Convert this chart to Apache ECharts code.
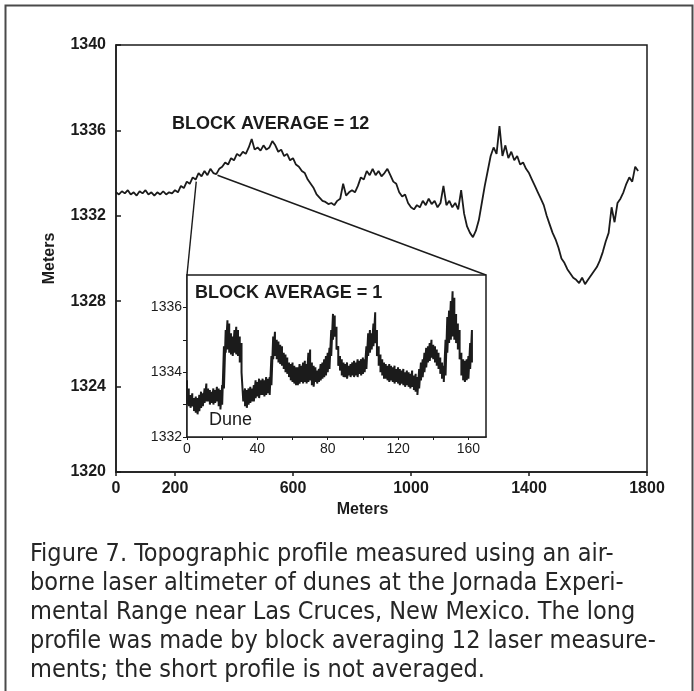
<!DOCTYPE html>
<html>
<head>
<meta charset="utf-8">
<script src="https://cdn.jsdelivr.net/npm/echarts@6/dist/echarts.min.js"></script>
<style>
  html, body { margin: 0; padding: 0; background: #fff; }
  #chart { width: 694px; height: 691px; }
</style>
</head>
<body>
<div id="chart"></div>
<script>
// Long profile: block average of 12 laser shots, one sample every 10 m from 0 m
const profileStartM = 0;
const profileStepM = 10;
const profileElev = [
  1333.1, 1333.0, 1333.15, 1333.05, 1333.2, 1333.0, 1333.1, 1332.95, 1333.15, 1333.05,
  1333.2, 1333.0, 1333.1, 1332.95, 1333.1, 1333.0, 1333.15, 1333.0, 1333.1, 1333.05,
  1333.2, 1333.1, 1333.4, 1333.3, 1333.6, 1333.5, 1333.8, 1333.7, 1334.0, 1333.85,
  1334.1, 1333.9, 1334.2, 1334.0, 1333.95, 1334.2, 1334.3, 1334.5, 1334.4, 1334.7,
  1334.6, 1334.9, 1334.8, 1335.0, 1334.9, 1335.2, 1335.6, 1335.1, 1335.2, 1335.05,
  1335.3, 1335.1, 1335.2, 1335.5, 1335.3, 1335.0, 1335.1, 1334.8, 1334.9, 1334.6,
  1334.7, 1334.4, 1334.3, 1334.1, 1334.0, 1333.7, 1333.5, 1333.3, 1333.0, 1332.85,
  1332.7, 1332.65, 1332.55, 1332.6, 1332.5, 1332.7, 1332.8, 1333.5, 1332.95, 1333.1,
  1333.2, 1333.1, 1333.4, 1333.8, 1333.7, 1334.1, 1333.9, 1334.2, 1333.9, 1334.1,
  1333.85, 1334.0, 1334.2, 1333.9, 1333.6, 1333.5, 1333.1, 1332.9, 1333.0, 1332.6,
  1332.4, 1332.3, 1332.5, 1332.4, 1332.7, 1332.5, 1332.8, 1332.55, 1332.7, 1332.4,
  1332.6, 1333.4, 1332.5, 1332.7, 1332.4, 1332.6, 1332.3, 1333.2, 1332.1, 1331.5,
  1331.2, 1331.0, 1331.3, 1331.8, 1332.6, 1333.4, 1334.1, 1334.8, 1335.2, 1334.9,
  1336.2, 1334.8, 1335.3, 1334.7, 1335.0, 1334.6, 1334.8, 1334.4, 1334.5, 1334.2,
  1334.0, 1333.7, 1333.4, 1333.1, 1332.8, 1332.5, 1332.0, 1331.6, 1331.2, 1330.9,
  1330.5, 1330.0, 1329.8, 1329.5, 1329.3, 1329.1, 1329.0, 1328.85, 1329.1, 1328.8,
  1329.0, 1329.2, 1329.4, 1329.6, 1329.9, 1330.3, 1330.8, 1331.2, 1332.4, 1331.7,
  1332.6, 1332.8, 1333.1, 1333.5, 1333.8, 1333.6, 1334.3, 1334.1
];

// Short profile, no averaging: per metre, highest and lowest raw return
const insetStepM = 1;
const insetHigh = [
  1333.75, 1333.5, 1333.3, 1333.35, 1333.2, 1333.25, 1333.2, 1333.3, 1333.4, 1333.35,
  1333.5, 1333.65, 1333.5, 1333.45, 1333.4, 1333.5, 1333.45, 1333.55, 1333.5, 1333.45,
  1333.6, 1334.8, 1335.3, 1335.6, 1335.5, 1335.2, 1335.1, 1335.3, 1335.4, 1335.3,
  1335.1, 1334.9, 1334.0, 1333.5, 1333.45, 1333.5, 1333.55, 1333.5, 1333.6, 1333.75,
  1333.7, 1333.8, 1333.75, 1333.8, 1333.75, 1333.85, 1333.8, 1333.85, 1334.5, 1335.1,
  1335.25, 1335.0, 1334.95, 1334.85, 1334.8, 1334.6, 1334.55, 1334.45, 1334.3, 1334.25,
  1334.3, 1334.2, 1334.15, 1334.15, 1334.25, 1334.2, 1334.3, 1334.35, 1334.25, 1334.6,
  1334.7, 1334.3, 1334.2, 1334.15, 1334.05, 1334.1, 1334.25, 1334.3, 1334.4, 1334.5,
  1334.6, 1334.75, 1335.3, 1335.8, 1335.75, 1335.4, 1334.8, 1334.5, 1334.4, 1334.3,
  1334.25, 1334.3, 1334.2, 1334.25, 1334.3, 1334.35, 1334.3, 1334.4, 1334.35, 1334.4,
  1334.45, 1334.4, 1334.8, 1335.2, 1335.3, 1335.2, 1335.5, 1335.85, 1335.3, 1334.8,
  1334.55, 1334.4, 1334.3, 1334.25, 1334.2, 1334.25, 1334.2, 1334.15, 1334.2, 1334.1,
  1334.15, 1334.1, 1334.05, 1334.1, 1334.0, 1334.05, 1334.0, 1333.95, 1334.05, 1333.9,
  1333.95, 1333.85, 1334.1, 1334.3, 1334.4, 1334.6, 1334.75, 1334.8, 1334.9, 1335.0,
  1334.85, 1334.8, 1334.7, 1334.6, 1334.45, 1334.3, 1334.2, 1335.0, 1335.7, 1335.9,
  1336.2, 1336.5, 1336.3, 1335.8, 1335.5, 1335.3, 1334.6, 1334.4, 1334.35, 1334.4,
  1334.5, 1334.9, 1335.3
];
const insetLow = [
  1333.0, 1332.95, 1332.9, 1332.95, 1332.8, 1332.75, 1332.7, 1332.8, 1332.9, 1332.95,
  1333.05, 1333.1, 1333.1, 1333.0, 1333.05, 1333.0, 1333.05, 1333.1, 1332.95, 1332.85,
  1333.0, 1333.5, 1334.6, 1334.7, 1334.6, 1334.55, 1334.5, 1334.6, 1334.55, 1334.5,
  1334.3, 1334.0, 1333.1, 1332.95, 1332.9, 1333.0, 1333.05, 1333.1, 1333.1, 1333.2,
  1333.25, 1333.2, 1333.3, 1333.3, 1333.25, 1333.3, 1333.35, 1333.3, 1333.6, 1334.4,
  1334.5, 1334.4, 1334.3, 1334.25, 1334.2, 1334.1, 1334.0, 1333.95, 1333.85, 1333.75,
  1333.7, 1333.65, 1333.6, 1333.6, 1333.65, 1333.7, 1333.65, 1333.7, 1333.65, 1333.7,
  1333.75, 1333.6, 1333.55, 1333.7, 1333.65, 1333.7, 1333.75, 1333.8, 1333.85, 1333.9,
  1334.0, 1334.1, 1334.5, 1335.0, 1335.1, 1334.7, 1334.2, 1334.05, 1333.9, 1333.85,
  1333.85, 1333.8, 1333.9, 1333.85, 1333.9, 1333.85, 1333.9, 1333.85, 1333.95, 1333.9,
  1333.95, 1334.0, 1334.1, 1334.5, 1334.6, 1334.7, 1334.8, 1334.9, 1334.5, 1334.2,
  1334.0, 1333.9, 1333.8, 1333.8, 1333.75, 1333.7, 1333.75, 1333.7, 1333.65, 1333.7,
  1333.65, 1333.6, 1333.65, 1333.6, 1333.55, 1333.6, 1333.55, 1333.5, 1333.55, 1333.45,
  1333.4, 1333.3, 1333.5, 1333.75, 1333.85, 1334.0, 1334.15, 1334.3, 1334.35, 1334.45,
  1334.4, 1334.3, 1334.2, 1334.1, 1333.95, 1333.8, 1333.7, 1333.9, 1334.6, 1334.9,
  1335.0, 1335.1, 1335.0, 1334.9, 1334.7, 1334.4, 1333.9, 1333.75, 1333.7, 1333.75,
  1333.8, 1334.1, 1334.3
];

// Axis ticks and labels
const mainXTicks = [0, 200, 600, 1000, 1400, 1800];
const insetXTicks = [0, 20, 40, 60, 80, 100, 120, 140, 160];
const insetXLabels = [0, 40, 80, 120, 160];
const insetYTicks = [1332, 1333, 1334, 1335, 1336];
const insetYLabels = [1332, 1334, 1336];

// Where the short profile sits on the long one (distance m, elevation m)
const zoomFromLeft = [272, 1333.6];
const zoomFromRight = [344, 1333.9];

const captionText = [
  'Figure 7. Topographic profile measured using an air-',
  'borne laser altimeter of dunes at the Jornada Experi-',
  'mental Range near Las Cruces, New Mexico. The long',
  'profile was made by block averaging 12 laser measure-',
  'ments; the short profile is not averaged.'
];

const ink = '#1b1b1b';
const labelFont = 'Liberation Sans, Arial, sans-serif';
const plain = v => String(v);

const profileData = profileElev.map((v, i) => [profileStartM + i * profileStepM, v]);
const insetData = [];
insetHigh.forEach((hi, i) => {
  const d = i * insetStepM;
  insetData.push([d, hi]);
  insetData.push([d, insetLow[i]]);
});

const chart = echarts.init(document.getElementById('chart'), null, { renderer: 'canvas' });

const boldLabel = { color: ink, fontFamily: labelFont, fontWeight: 'bold', fontSize: 16 };
const thinLabel = { color: ink, fontFamily: labelFont, fontSize: 14 };

chart.setOption({
  backgroundColor: '#fff',
  animation: false,
  grid: [
    { left: 116, top: 45, width: 531, height: 427, show: true, borderColor: ink, borderWidth: 1.5, backgroundColor: 'transparent' },
    { left: 187, top: 275, width: 299, height: 162, show: true, borderColor: ink, borderWidth: 1.5, backgroundColor: '#fff', z: 5 }
  ],
  xAxis: [
    {
      gridIndex: 0, type: 'value', min: 0, max: 1800,
      name: 'Meters', nameLocation: 'middle', nameGap: 29,
      nameTextStyle: Object.assign({ padding: [0, 38, 0, 0] }, boldLabel),
      axisLine: { lineStyle: { color: ink, width: 1.5 } },
      axisTick: { customValues: mainXTicks, length: 4, lineStyle: { color: ink, width: 1.5 } },
      axisLabel: Object.assign({ customValues: mainXTicks, margin: 9, formatter: plain }, boldLabel),
      splitLine: { show: false }
    },
    {
      gridIndex: 1, type: 'value', min: 0, max: 170,
      axisLine: { lineStyle: { color: ink, width: 1.5 } },
      axisTick: { customValues: insetXTicks, length: 3, lineStyle: { color: ink } },
      axisLabel: Object.assign({ customValues: insetXLabels, margin: 5, formatter: plain }, thinLabel),
      splitLine: { show: false }
    }
  ],
  yAxis: [
    {
      gridIndex: 0, type: 'value', min: 1320, max: 1340, interval: 4,
      name: 'Meters', nameLocation: 'middle', nameGap: 58, nameRotate: 90,
      nameTextStyle: boldLabel,
      axisLine: { lineStyle: { color: ink, width: 1.5 } },
      axisTick: { inside: true, length: 5, lineStyle: { color: ink, width: 1.5 } },
      axisLabel: Object.assign({ margin: 10, formatter: plain }, boldLabel),
      splitLine: { show: false }
    },
    {
      gridIndex: 1, type: 'value', min: 1332, max: 1337,
      axisLine: { lineStyle: { color: ink, width: 1.5 } },
      axisTick: { customValues: insetYTicks, length: 4, lineStyle: { color: ink } },
      axisLabel: Object.assign({ customValues: insetYLabels, margin: 5, formatter: plain }, thinLabel),
      splitLine: { show: false }
    }
  ],
  series: [
    {
      type: 'line', xAxisIndex: 0, yAxisIndex: 0, data: profileData,
      showSymbol: false, symbol: 'none',
      lineStyle: { color: ink, width: 1.8 }, z: 2
    },
    {
      type: 'line', xAxisIndex: 1, yAxisIndex: 1, data: insetData,
      showSymbol: false, symbol: 'none',
      lineStyle: { color: ink, width: 2 }, z: 6
    }
  ]
});

// Connector lines from the long profile down to the upper corners of the inset,
// plus the free text, the caption and the outer frame
const a = chart.convertToPixel({ gridIndex: 0 }, zoomFromLeft);
const b = chart.convertToPixel({ gridIndex: 0 }, zoomFromRight);
const cl = chart.convertToPixel({ gridIndex: 1 }, [0, 1337]);
const cr = chart.convertToPixel({ gridIndex: 1 }, [170, 1337]);

chart.setOption({
  graphic: [
    { type: 'line', shape: { x1: a[0], y1: a[1], x2: cl[0], y2: cl[1] }, style: { stroke: ink, lineWidth: 1.4 }, z: 3 },
    { type: 'line', shape: { x1: b[0], y1: b[1], x2: cr[0], y2: cr[1] }, style: { stroke: ink, lineWidth: 1.4 }, z: 3 },
    { type: 'text', left: 172, top: 115, style: { text: 'BLOCK AVERAGE = 12', fill: ink, font: 'bold 18px ' + labelFont }, z: 10 },
    { type: 'text', left: 195, top: 284, style: { text: 'BLOCK AVERAGE = 1', fill: ink, font: 'bold 18px ' + labelFont }, z: 10 },
    { type: 'text', left: 209, top: 411, style: { text: 'Dune', fill: ink, font: '18px ' + labelFont }, z: 10 },
    { type: 'text', left: 30, top: 540, style: { text: captionText.join('\n'), fill: '#262626', font: '25px "DejaVu Sans Condensed", "DejaVu Sans", sans-serif', lineHeight: 29 }, z: 10 },
    { type: 'rect', shape: { x: 5.5, y: 5.5, width: 687, height: 720 }, style: { fill: 'none', stroke: '#4a4a4a', lineWidth: 2 }, z: 10 }
  ]
});
</script>
</body>
</html>
